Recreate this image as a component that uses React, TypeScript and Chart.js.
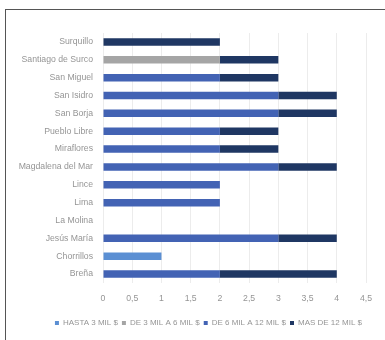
import React, { useEffect, useRef } from "react";
import { Chart, registerables } from "chart.js";

Chart.register(...registerables);

const categories = [
  "Surquillo",
  "Santiago de Surco",
  "San Miguel",
  "San Isidro",
  "San Borja",
  "Pueblo Libre",
  "Miraflores",
  "Magdalena del Mar",
  "Lince",
  "Lima",
  "La Molina",
  "Jesús María",
  "Chorrillos",
  "Breña",
];

const seriesNames = ["HASTA 3 MIL $", "DE 3 MIL A 6 MIL $", "DE 6 MIL A 12 MIL $", "MAS DE 12 MIL $"];
const hasta3 = [0, 0, 0, 0, 0, 0, 0, 0, 0, 0, 0, 0, 1, 0];
const de3a6 = [0, 2, 0, 0, 0, 0, 0, 0, 0, 0, 0, 0, 0, 0];
const de6a12 = [0, 0, 2, 3, 3, 2, 2, 3, 2, 2, 0, 3, 0, 2];
const mas12 = [2, 1, 1, 1, 1, 1, 1, 1, 0, 0, 0, 1, 0, 2];
const seriesColors = ["#5b8fd3", "#a5a5a5", "#4363b4", "#1f3763"];
const xTicks = ["0", "0,5", "1", "1,5", "2", "2,5", "3", "3,5", "4", "4,5"];

export default function App() {
  const ref = useRef<HTMLCanvasElement>(null);
  useEffect(() => {
    if (!ref.current) return;
    const values = [hasta3, de3a6, de6a12, mas12];
    const fam = "'Liberation Sans', Arial, sans-serif";
    const font = { family: fam, size: 8.7 };
    const chart = new Chart(ref.current, {
      type: "bar",
      data: {
        labels: categories,
        datasets: seriesNames.map((name, i) => ({
          label: name,
          data: values[i],
          backgroundColor: seriesColors[i],
          borderWidth: 0,
          barPercentage: 0.42,
          categoryPercentage: 1,
        })),
      },
      options: {
        indexAxis: "y",
        animation: false,
        responsive: false,
        maintainAspectRatio: false,
        layout: { padding: { left: 0, right: 19, top: 33, bottom: 3 } },
        plugins: {
          tooltip: { enabled: false },
          legend: {
            position: "bottom",
            align: "end",
            labels: {
              color: "#959595",
              font: { family: fam, size: 8 },
              boxWidth: 4,
              boxHeight: 4,
              padding: 4,
            },
          },
        },
        scales: {
          x: {
            stacked: true,
            min: 0,
            max: 4.5,
            border: { display: false },
            grid: { color: "#ececec", drawTicks: false },
            ticks: {
              stepSize: 0.5,
              color: "#959595",
              font,
              padding: 10,
              callback: (_v: any, i: number) => xTicks[i],
            },
            afterFit: (s: any) => {
              s.height = 32;
            },
          },
          y: {
            stacked: true,
            border: { display: false },
            grid: { display: false, drawTicks: false },
            ticks: { color: "#959595", font, padding: 10, autoSkip: false },
            afterFit: (s: any) => {
              s.width = 103;
            },
          },
        },
      },
    });
    return () => chart.destroy();
  }, []);
  return (
    <div style={{ position: "fixed", left: 0, top: 0, width: 385, height: 340, background: "#fff" }}>
      <canvas ref={ref} width={385} height={340} style={{ position: "absolute", left: 0, top: 0 }} />
      <div
        style={{
          position: "absolute",
          left: 5,
          top: 9,
          width: 390,
          height: 340,
          border: "1px solid #555",
          boxSizing: "border-box",
          pointerEvents: "none",
        }}
      />
    </div>
  );
}
